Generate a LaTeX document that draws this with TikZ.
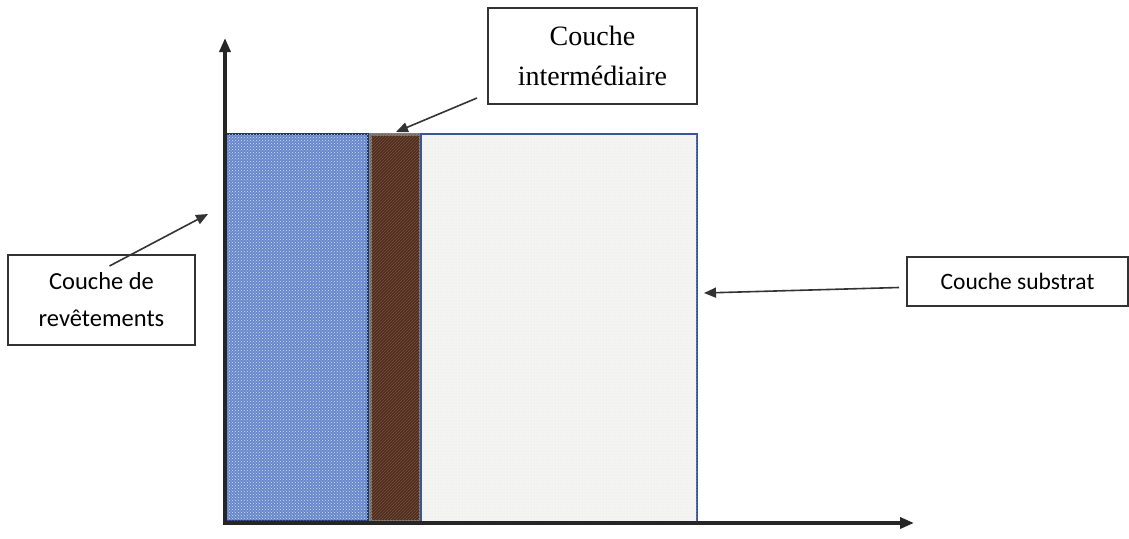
\documentclass[tikz,border=0pt]{standalone}
\usepackage{fontspec}
\setmainfont{Liberation Serif}
\newfontfamily\carlito{Carlito}
\usepackage{tikz}
\usetikzlibrary{arrows.meta, patterns, positioning}
\definecolor{coatblue}{RGB}{104,136,204}
\definecolor{coatdark}{RGB}{30,55,110}
\definecolor{midbrown}{RGB}{78,44,30}
\definecolor{midstreak}{RGB}{120,84,62}
\definecolor{substgray}{RGB}{244,244,243}
\definecolor{substline}{RGB}{60,85,150}
\tikzset{
  layer/.style={rectangle, anchor=north west, inner sep=0pt, outer sep=0pt},
  label box/.style={rectangle, draw=black!80, line width=2pt, fill=white,
                    align=center, inner sep=0pt},
  axis/.style={-{Triangle[length=14pt, width=11pt]}, line width=3.4pt, black!85},
  pointer/.style={-{Triangle[length=12pt, width=10pt]}, line width=1.6pt, black!80},
}
\begin{document}
\begin{tikzpicture}[x=1pt, y=-1pt]
  \useasboundingbox (0,0) rectangle (1129,538);

  %% === Layers ===
  \node[layer, fill=coatblue, draw=coatdark, line width=1.5pt,
        minimum width=143pt, minimum height=387pt,
        postaction={pattern=crosshatch dots, pattern color=white!70!coatblue}]
        (coat) at (225,134) {};
  \node[layer, fill=midbrown, draw=gray, line width=3pt,
        minimum width=50pt, minimum height=387pt,
        postaction={pattern=north east lines, pattern color=midstreak}]
        (mid) at (370,134) {};
  \node[layer, fill=substgray, draw=substline, line width=1.2pt,
        minimum width=276pt, minimum height=389pt,
        postaction={pattern=dots, pattern color=black!10}]
        (subst) at (421,134) {};

  %% === Axes ===
  \coordinate (origin) at (225,523);
  \coordinate (ytip)   at (225,38);
  \coordinate (xtip)   at (914,523);
  \draw[axis] (origin) -- (ytip);
  \draw[axis] ([xshift=-1.7pt]origin) -- (xtip);

  %% === Labels ===
  \node[label box, minimum width=209pt, minimum height=96pt, font=\fontsize{28}{40}\selectfont]
        (midlbl) at (592.5,56) {Couche\\intermédiaire};
  \node[label box, minimum width=187pt, minimum height=90pt, font=\carlito\fontsize{24.5}{37}\selectfont]
        (coatlbl) at (101.5,300) {Couche de\\revêtements};
  \node[label box, minimum width=221pt, minimum height=49pt, font=\carlito\fontsize{23.5}{28}\selectfont]
        (substlbl) at (1017.5,281.5) {Couche substrat};

  %% === Pointers ===
  \coordinate (midend)   at (396,132);
  \coordinate (coatend)  at (208,214);
  \coordinate (substend) at (704,293);
  \draw[pointer] ([shift={(-10,-7)}]midlbl.south west) -- (midend);
  \draw[pointer] ([yshift=-12pt]coatlbl.north) ++(8,0) -- (coatend);
  \draw[pointer] ([xshift=-7pt]substlbl.west) ++(0,6) -- (substend);
\end{tikzpicture}
\end{document}
